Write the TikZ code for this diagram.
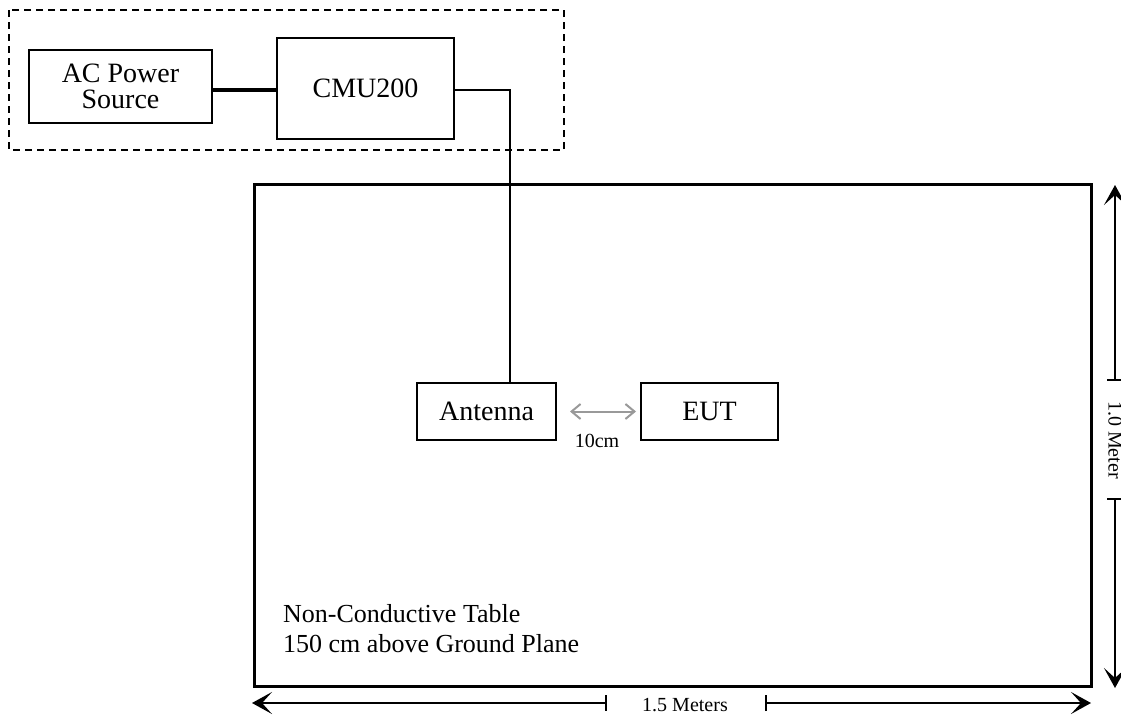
\documentclass[tikz,border=0pt]{standalone}
\usepackage{fontspec}
\setmainfont{Liberation Serif}
\usetikzlibrary{arrows.meta,calc}

\tikzset{
  unit/.style={draw,line width=2pt,inner sep=0pt,align=center,
    font=\fontsize{28}{25.5}\selectfont},
  dimline/.style={line width=2pt},
  dimtip/.tip={Stealth[length=20pt,width=22pt,inset=10pt]},
  dimtext/.style={font=\fontsize{20}{22}\selectfont},
}

\begin{document}
\begin{tikzpicture}[x=1pt,y=-1pt]
  \useasboundingbox (0,0) rectangle (1121,715);
  % test equipment group (dashed enclosure)
  \draw[line width=1.8pt,dash pattern=on 7pt off 5pt] (9,10) rectangle (564,150);
  \node[unit,minimum width=183,minimum height=73] (ac)  at (120.5,86.5) {AC Power\\Source};
  \node[unit,minimum width=177,minimum height=101] (cmu) at (365.5,88.5) {CMU200};

  % non-conductive table
  \draw[line width=3pt] (254,184) rectangle (1091,686);
  \node[unit,minimum width=139,minimum height=57] (ant) at (486.5,411.5) {Antenna};
  \node[unit,minimum width=137,minimum height=57] (eut) at (709.5,411.5) {EUT};
  \node[anchor=north west,align=left,inner sep=0pt,
    font=\fontsize{26}{30}\selectfont] (tbl) at (283,604)
    {Non-Conductive Table\\150 cm above Ground Plane};

  % cabling
  \draw[line width=3.5pt] (ac.east |- 0,90) -- (cmu.west |- 0,90);
  \coordinate (feed) at ($(ant.north)+(23.5,0)$);
  \draw[line width=1.6pt] (cmu.east |- 0,90) -| (feed);

  % antenna to EUT separation
  \draw[black!40,line width=2pt,{Straight Barb[length=9pt,width=15pt]}-{Straight Barb[length=9pt,width=15pt]},
    shorten <=13pt,shorten >=4pt] (ant.east) -- (eut.west);
  \node[dimtext] (sep) at (597,441) {10cm};

  % table dimensions
  \coordinate (wl) at (252,703);  \coordinate (wm1) at (607,703);
  \coordinate (wm2) at (765,703); \coordinate (wr) at (1091,703);
  \draw[dimline,{dimtip}-{Bar[width=16pt]}] (wl) -- (wm1);
  \draw[dimline,{Bar[width=16pt]}-{dimtip}] (wm2) -- (wr);
  \node[dimtext] (wtext) at (685,705) {1.5 Meters};

  \coordinate (ht) at (1115,185);  \coordinate (hm1) at (1115,381);
  \coordinate (hm2) at (1115,498); \coordinate (hb) at (1115,688);
  \draw[dimline,{dimtip}-{Bar[width=16pt]}] (ht) -- (hm1);
  \draw[dimline,{Bar[width=16pt]}-{dimtip}] (hm2) -- (hb);
  \node[dimtext,rotate=-90] (htext) at (1115,440) {1.0 Meter};
\end{tikzpicture}
\end{document}
